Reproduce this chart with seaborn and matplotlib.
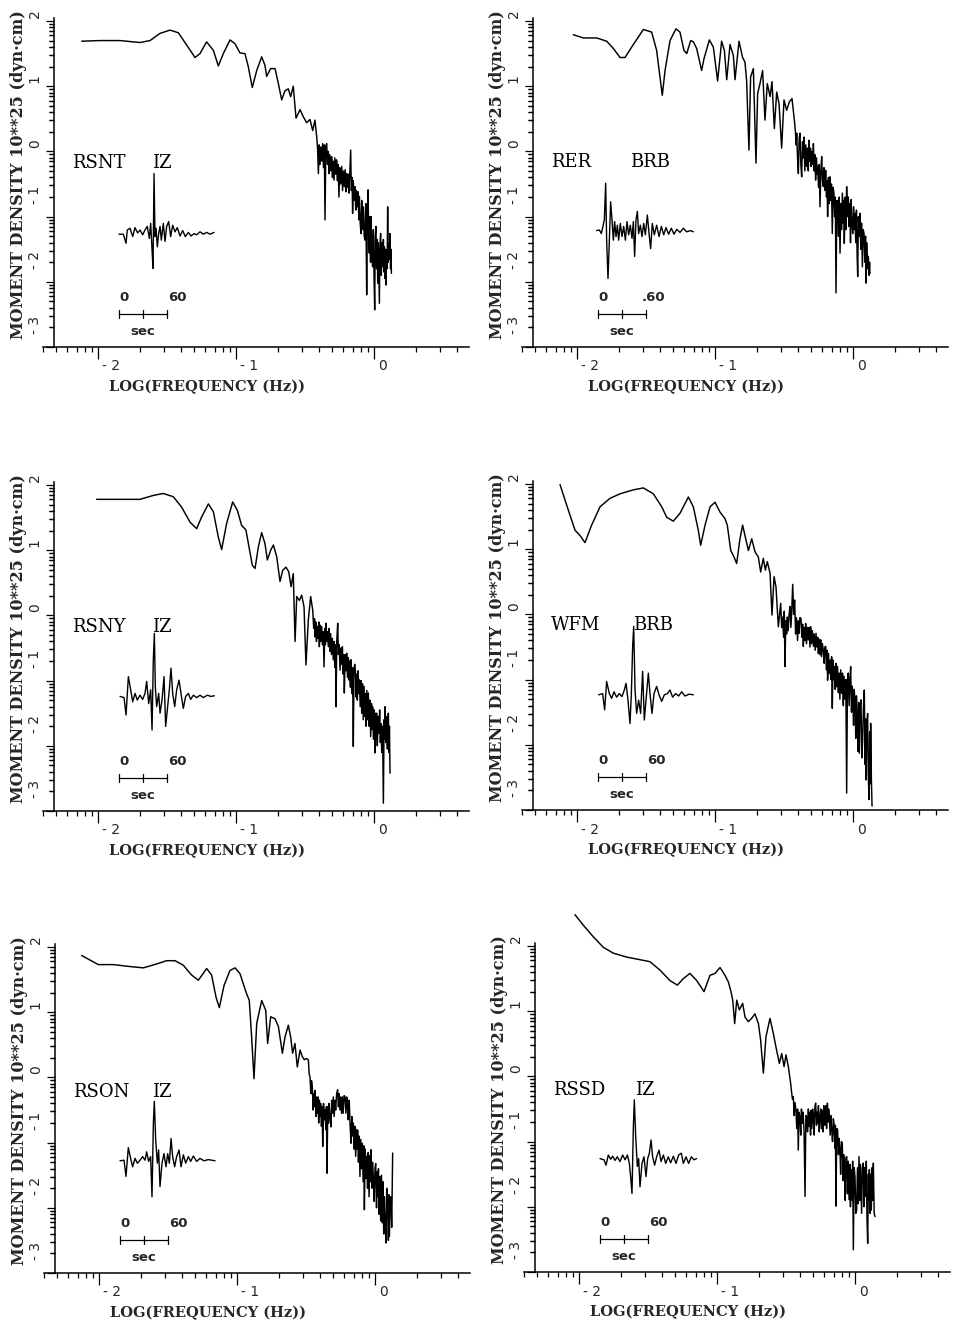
import numpy as np
import pandas as pd
import matplotlib
matplotlib.use("Agg")
import matplotlib.pyplot as plt
import matplotlib.transforms as mtransforms
from matplotlib.markers import TICKLEFT
from matplotlib.ticker import FixedLocator
import seaborn as sns

# ---------------- data (log10 frequency [Hz], log10 moment density [1e25 dyn.cm]) ----------------
rsnt_spectrum = [(-2.118, 1.69), (-1.986, 1.70), (-1.841, 1.70), (-1.696, 1.67), (-1.623, 1.70), (-1.551, 1.81),
    (-1.478, 1.86), (-1.418, 1.82), (-1.357, 1.63), (-1.297, 1.44), (-1.261, 1.50), (-1.213, 1.68), (-1.164, 1.55),
    (-1.128, 1.31), (-1.092, 1.50), (-1.043, 1.71), (-1.007, 1.65), (-0.971, 1.51), (-0.935, 1.50), (-0.911, 1.30),
    (-0.882, 0.98), (-0.850, 1.24), (-0.814, 1.45), (-0.790, 1.32), (-0.778, 1.15), (-0.749, 1.27), (-0.717, 1.27),
    (-0.693, 1.04), (-0.669, 0.79), (-0.645, 0.93), (-0.621, 0.96), (-0.604, 0.84), (-0.585, 1.00), (-0.565, 0.51),
    (-0.536, 0.64), (-0.512, 0.53), (-0.488, 0.44), (-0.464, 0.49), (-0.444, 0.32), (-0.428, 0.48), (-0.415, 0.22),
    (-0.409, 0.05), (-0.403, -0.34), (-0.397, 0.10), (-0.391, -0.20), (-0.385, 0.07), (-0.379, -0.15), (-0.372, 0.12),
    (-0.366, -0.25), (-0.360, 0.10), (-0.355, -1.05), (-0.349, 0.08), (-0.343, 0.12), (-0.337, -0.20), (-0.331, 0.00),
    (-0.326, -0.34), (-0.320, -0.05), (-0.313, -0.30), (-0.307, -0.08), (-0.301, -0.40), (-0.296, -0.15), (-0.290, -0.44),
    (-0.284, -0.10), (-0.277, -0.35), (-0.271, -0.13), (-0.265, -0.45), (-0.260, -0.20), (-0.254, -0.70), (-0.248, -0.25),
    (-0.241, -0.50), (-0.234, -0.23), (-0.228, -0.60), (-0.221, -0.30), (-0.215, -0.54), (-0.209, -0.28), (-0.203, -0.62),
    (-0.198, -0.34), (-0.192, -0.55), (-0.186, -0.35), (-0.181, -0.64), (-0.175, -0.30), (-0.169, 0.02), (-0.164, -0.60),
    (-0.159, -0.40), (-0.155, -0.95), (-0.150, -0.45), (-0.144, -0.75), (-0.138, -0.54), (-0.132, -0.90), (-0.127, -0.60),
    (-0.121, -0.85), (-0.115, -0.62), (-0.110, -1.05), (-0.106, -0.69), (-0.100, -1.10), (-0.094, -1.26), (-0.089, -0.75),
    (-0.083, -1.20), (-0.077, -0.85), (-0.071, -1.30), (-0.065, -1.36), (-0.060, -0.80), (-0.056, -1.50), (-0.053, -2.20),
    (-0.048, -0.95), (-0.043, -0.59), (-0.038, -1.40), (-0.034, -1.56), (-0.029, -1.00), (-0.025, -1.70), (-0.022, -1.00),
    (-0.016, -1.60), (-0.010, -1.77), (-0.005, -1.20), (0.000, -1.90), (0.005, -2.43), (0.009, -1.30), (0.014, -1.15),
    (0.019, -1.80), (0.023, -1.35), (0.027, -2.02), (0.031, -1.40), (0.035, -1.90), (0.039, -2.33), (0.043, -1.45),
    (0.048, -1.26), (0.053, -1.90), (0.058, -1.40), (0.063, -1.77), (0.068, -1.35), (0.072, -1.85), (0.075, -1.46),
    (0.080, -1.95), (0.084, -1.50), (0.087, -2.05), (0.091, -1.55), (0.095, -1.80), (0.099, -0.85), (0.103, -1.70),
    (0.106, -1.40), (0.109, -1.66), (0.113, -1.45), (0.116, -1.26), (0.120, -1.80), (0.123, -1.50), (0.126, -1.87)]

rer_spectrum = [(-2.027, 1.79), (-1.954, 1.74), (-1.857, 1.74), (-1.785, 1.69), (-1.737, 1.58), (-1.688, 1.44),
    (-1.652, 1.44), (-1.604, 1.60), (-1.519, 1.87), (-1.459, 1.83), (-1.423, 1.55), (-1.399, 1.14), (-1.382, 0.86),
    (-1.362, 1.24), (-1.326, 1.70), (-1.283, 1.88), (-1.254, 1.83), (-1.225, 1.55), (-1.205, 1.50), (-1.176, 1.70),
    (-1.157, 1.68), (-1.133, 1.58), (-1.097, 1.24), (-1.080, 1.42), (-1.041, 1.71), (-1.012, 1.60), (-0.981, 1.08),
    (-0.952, 1.69), (-0.932, 1.55), (-0.915, 1.10), (-0.891, 1.64), (-0.867, 1.47), (-0.855, 1.10), (-0.826, 1.69),
    (-0.800, 1.44), (-0.783, 1.37), (-0.771, 1.09), (-0.754, 0.02), (-0.742, 1.14), (-0.722, 1.27), (-0.703, -0.18),
    (-0.691, 0.89), (-0.674, 1.04), (-0.655, 1.24), (-0.638, 0.48), (-0.621, 1.04), (-0.601, 0.84), (-0.587, 1.07),
    (-0.570, 0.35), (-0.553, 0.91), (-0.536, 0.73), (-0.517, 0.05), (-0.500, 0.79), (-0.481, 0.63), (-0.461, 0.76),
    (-0.442, 0.81), (-0.425, 0.48), (-0.417, 0.30), (-0.412, 0.10), (-0.408, 0.28), (-0.402, -0.10), (-0.396, -0.34),
    (-0.390, 0.20), (-0.384, 0.28), (-0.378, -0.20), (-0.372, -0.39), (-0.366, 0.15), (-0.360, -0.10), (-0.355, 0.22),
    (-0.349, -0.30), (-0.342, 0.10), (-0.336, -0.23), (-0.330, 0.05), (-0.324, -0.30), (-0.319, 0.17), (-0.313, -0.15),
    (-0.308, 0.05), (-0.304, -0.23), (-0.298, 0.00), (-0.292, -0.20), (-0.287, 0.12), (-0.281, -0.30), (-0.276, -0.05),
    (-0.271, -0.44), (-0.265, -0.10), (-0.260, -0.35), (-0.256, -0.23), (-0.250, -0.55), (-0.245, -0.20), (-0.239, -0.85),
    (-0.233, -0.30), (-0.227, -0.08), (-0.221, -0.45), (-0.215, -0.54), (-0.210, -0.25), (-0.204, -0.60), (-0.198, -0.29),
    (-0.192, -0.70), (-0.188, -0.45), (-0.184, -1.00), (-0.178, -0.40), (-0.172, -0.80), (-0.167, -0.39), (-0.161, -0.75),
    (-0.156, -0.50), (-0.150, -1.26), (-0.144, -0.55), (-0.138, -0.64), (-0.133, -1.00), (-0.128, -0.70), (-0.123, -2.17),
    (-0.117, -0.75), (-0.111, -0.85), (-0.105, -1.30), (-0.100, -0.70), (-0.094, -1.56), (-0.088, -0.80), (-0.083, -1.20),
    (-0.077, -0.64), (-0.071, -1.10), (-0.067, -0.75), (-0.063, -1.41), (-0.057, -0.70), (-0.052, -1.20), (-0.046, -0.54),
    (-0.040, -1.00), (-0.034, -0.70), (-0.029, -1.15), (-0.023, -0.80), (-0.018, -1.40), (-0.014, -0.74), (-0.008, -1.10),
    (-0.002, -1.26), (0.004, -0.85), (0.009, -1.20), (0.014, -0.95), (0.020, -1.40), (0.025, -0.90), (0.030, -1.60),
    (0.034, -1.92), (0.039, -1.00), (0.045, -1.30), (0.051, -0.95), (0.056, -1.50), (0.062, -1.10), (0.068, -1.77),
    (0.074, -1.20), (0.080, -1.26), (0.086, -1.70), (0.091, -1.30), (0.094, -2.02), (0.099, -1.40), (0.105, -1.80),
    (0.111, -1.61), (0.116, -1.90), (0.120, -1.70), (0.123, -1.87)]

rsny_spectrum = [(-2.010, 1.78), (-1.865, 1.78), (-1.696, 1.78), (-1.599, 1.84), (-1.527, 1.87), (-1.454, 1.82),
    (-1.394, 1.66), (-1.333, 1.43), (-1.285, 1.33), (-1.249, 1.51), (-1.200, 1.71), (-1.164, 1.59), (-1.128, 1.20),
    (-1.104, 1.01), (-1.068, 1.41), (-1.024, 1.74), (-0.990, 1.61), (-0.959, 1.38), (-0.928, 1.31), (-0.899, 0.97),
    (-0.882, 0.77), (-0.862, 0.72), (-0.838, 1.05), (-0.814, 1.27), (-0.790, 1.10), (-0.773, 0.85), (-0.749, 1.00),
    (-0.729, 1.08), (-0.705, 0.90), (-0.681, 0.52), (-0.662, 0.69), (-0.638, 0.74), (-0.618, 0.67), (-0.601, 0.44),
    (-0.585, 0.64), (-0.572, -0.40), (-0.560, 0.29), (-0.541, 0.23), (-0.524, 0.31), (-0.507, 0.13), (-0.493, -0.76),
    (-0.476, -0.07), (-0.459, 0.29), (-0.444, 0.08), (-0.437, -0.20), (-0.431, -0.05), (-0.428, -0.33), (-0.422, -0.10),
    (-0.417, -0.40), (-0.411, -0.17), (-0.405, -0.35), (-0.400, -0.10), (-0.396, -0.48), (-0.390, -0.15), (-0.385, -0.40),
    (-0.379, -0.17), (-0.373, -0.45), (-0.368, -0.25), (-0.362, -0.79), (-0.356, -0.20), (-0.352, -0.45), (-0.348, -0.12),
    (-0.342, -0.40), (-0.337, -0.25), (-0.331, -0.48), (-0.325, -0.20), (-0.320, -0.55), (-0.314, -0.28), (-0.308, -0.60),
    (-0.302, -0.35), (-0.295, -0.68), (-0.290, -0.40), (-0.284, -0.80), (-0.279, -0.45), (-0.275, -1.40), (-0.270, -0.40),
    (-0.263, -0.12), (-0.258, -0.60), (-0.252, -0.45), (-0.246, -0.84), (-0.240, -0.50), (-0.234, -0.75), (-0.229, -0.48),
    (-0.224, -0.90), (-0.219, -0.60), (-0.215, -1.19), (-0.209, -0.60), (-0.204, -0.85), (-0.198, -0.58), (-0.192, -0.95),
    (-0.186, -0.65), (-0.181, -0.99), (-0.176, -0.70), (-0.171, -1.10), (-0.167, -0.68), (-0.161, -1.20), (-0.155, -0.80),
    (-0.150, -2.01), (-0.145, -0.85), (-0.140, -0.75), (-0.135, -0.84), (-0.129, -1.25), (-0.124, -0.90), (-0.121, -1.30),
    (-0.115, -0.85), (-0.110, -1.20), (-0.106, -0.99), (-0.100, -1.40), (-0.094, -1.00), (-0.089, -1.50), (-0.083, -1.05),
    (-0.078, -1.60), (-0.072, -1.09), (-0.066, -1.55), (-0.062, -1.20), (-0.058, -1.70), (-0.052, -1.15), (-0.046, -1.60),
    (-0.041, -1.19), (-0.035, -1.70), (-0.030, -1.30), (-0.024, -1.86), (-0.018, -1.35), (-0.014, -1.75), (-0.010, -1.40),
    (-0.004, -1.90), (0.002, -1.45), (0.007, -2.11), (0.012, -1.50), (0.016, -1.90), (0.019, -1.50), (0.024, -2.00),
    (0.030, -1.55), (0.036, -1.81), (0.041, -1.45), (0.046, -1.95), (0.051, -1.66), (0.056, -2.10), (0.062, -1.70),
    (0.068, -2.88), (0.073, -1.60), (0.077, -1.90), (0.080, -1.40), (0.085, -1.95), (0.089, -1.55), (0.092, -1.70),
    (0.097, -2.05), (0.101, -1.60), (0.104, -1.50), (0.108, -2.10), (0.112, -1.70), (0.116, -2.42)]

wfm_spectrum = [(-2.123, 1.99), (-2.063, 1.60), (-2.014, 1.29), (-1.978, 1.21), (-1.942, 1.10), (-1.894, 1.37),
    (-1.833, 1.65), (-1.761, 1.78), (-1.688, 1.85), (-1.592, 1.91), (-1.519, 1.94), (-1.447, 1.85), (-1.386, 1.65),
    (-1.350, 1.49), (-1.302, 1.43), (-1.254, 1.55), (-1.193, 1.80), (-1.157, 1.65), (-1.121, 1.29), (-1.104, 1.06),
    (-1.072, 1.37), (-1.036, 1.65), (-1.000, 1.72), (-0.964, 1.57), (-0.928, 1.47), (-0.911, 1.37), (-0.886, 0.98),
    (-0.862, 0.88), (-0.843, 0.78), (-0.819, 1.16), (-0.800, 1.37), (-0.775, 1.14), (-0.758, 0.98), (-0.734, 1.16),
    (-0.710, 0.96), (-0.686, 0.88), (-0.669, 0.65), (-0.650, 0.86), (-0.635, 0.68), (-0.621, 0.81), (-0.601, 0.63),
    (-0.587, -0.01), (-0.572, 0.58), (-0.558, 0.42), (-0.541, -0.19), (-0.524, 0.17), (-0.517, -0.20), (-0.510, -0.04),
    (-0.503, -0.35), (-0.498, 0.05), (-0.493, -0.80), (-0.487, -0.10), (-0.481, -0.30), (-0.476, -0.04), (-0.470, -0.25),
    (-0.463, 0.00), (-0.457, 0.12), (-0.450, -0.20), (-0.444, 0.05), (-0.437, 0.46), (-0.430, 0.00), (-0.423, 0.22),
    (-0.416, -0.30), (-0.411, -0.05), (-0.408, -0.09), (-0.402, -0.40), (-0.396, -0.10), (-0.391, -0.29), (-0.385, -0.05),
    (-0.377, -0.06), (-0.371, -0.35), (-0.365, -0.15), (-0.360, -0.49), (-0.354, -0.20), (-0.348, -0.40), (-0.343, -0.14),
    (-0.337, -0.45), (-0.330, -0.20), (-0.324, -0.39), (-0.318, -0.20), (-0.312, -0.50), (-0.307, -0.19), (-0.301, -0.45),
    (-0.294, -0.25), (-0.287, -0.49), (-0.281, -0.30), (-0.274, -0.55), (-0.268, -0.29), (-0.262, -0.50), (-0.256, -0.35),
    (-0.251, -0.60), (-0.245, -0.38), (-0.239, -0.62), (-0.234, -0.39), (-0.228, -0.65), (-0.222, -0.45), (-0.215, -0.55),
    (-0.209, -0.75), (-0.204, -0.50), (-0.198, -0.49), (-0.192, -0.85), (-0.188, -0.55), (-0.184, -1.01), (-0.178, -0.60),
    (-0.172, -0.90), (-0.167, -0.70), (-0.161, -1.00), (-0.155, -0.65), (-0.150, -1.44), (-0.145, -0.70), (-0.140, -1.00),
    (-0.135, -0.80), (-0.129, -1.15), (-0.124, -0.75), (-0.118, -1.11), (-0.112, -0.80), (-0.106, -1.20), (-0.101, -0.90),
    (-0.095, -1.30), (-0.089, -0.85), (-0.082, -1.21), (-0.076, -0.90), (-0.070, -1.40), (-0.065, -0.95), (-0.058, -1.30),
    (-0.052, -1.00), (-0.046, -2.74), (-0.040, -1.00), (-0.034, -0.90), (-0.028, -1.40), (-0.022, -1.00), (-0.017, -0.80),
    (-0.011, -1.50), (-0.006, -1.10), (-0.002, -1.21), (0.004, -1.70), (0.009, -1.15), (0.014, -1.31), (0.020, -1.90),
    (0.025, -1.25), (0.031, -1.57), (0.036, -2.10), (0.041, -1.35), (0.046, -2.13), (0.052, -1.40), (0.058, -1.31),
    (0.064, -2.20), (0.070, -1.92), (0.076, -1.40), (0.082, -1.16), (0.087, -2.30), (0.091, -1.60), (0.094, -2.54),
    (0.100, -1.70), (0.106, -1.52), (0.110, -2.40), (0.116, -2.84), (0.121, -1.80), (0.125, -2.60), (0.128, -1.67),
    (0.133, -2.50), (0.138, -2.94)]

rson_spectrum = [(-2.126, 1.87), (-2.065, 1.80), (-2.005, 1.73), (-1.896, 1.73), (-1.775, 1.70), (-1.679, 1.68),
    (-1.582, 1.74), (-1.510, 1.79), (-1.449, 1.79), (-1.389, 1.72), (-1.329, 1.57), (-1.280, 1.49), (-1.220, 1.67),
    (-1.184, 1.57), (-1.152, 1.23), (-1.128, 1.07), (-1.094, 1.41), (-1.051, 1.64), (-1.014, 1.68), (-0.978, 1.59),
    (-0.935, 1.31), (-0.911, 1.18), (-0.894, 0.62), (-0.877, -0.02), (-0.857, 0.83), (-0.821, 1.18), (-0.792, 1.03),
    (-0.778, 0.52), (-0.756, 0.93), (-0.725, 0.90), (-0.700, 0.78), (-0.671, 0.37), (-0.652, 0.62), (-0.628, 0.80),
    (-0.611, 0.62), (-0.597, 0.37), (-0.580, 0.52), (-0.563, 0.16), (-0.543, 0.42), (-0.527, 0.32), (-0.512, 0.27),
    (-0.500, 0.29), (-0.483, 0.27), (-0.477, 0.05), (-0.471, 0.01), (-0.465, -0.25), (-0.460, -0.05), (-0.454, -0.14),
    (-0.448, -0.50), (-0.444, -0.25), (-0.440, -0.45), (-0.434, -0.20), (-0.428, -0.60), (-0.423, -0.30), (-0.418, -0.55),
    (-0.413, -0.30), (-0.408, -0.70), (-0.403, -0.35), (-0.398, -0.60), (-0.394, -0.40), (-0.388, -0.75), (-0.383, -0.45),
    (-0.379, -1.06), (-0.373, -0.40), (-0.367, -0.65), (-0.362, -0.50), (-0.356, -0.80), (-0.352, -0.45), (-0.348, -1.47),
    (-0.342, -0.45), (-0.337, -0.70), (-0.333, -0.40), (-0.326, -0.60), (-0.319, -0.76), (-0.314, -0.35), (-0.308, -0.55),
    (-0.302, -0.30), (-0.296, -0.60), (-0.290, -0.35), (-0.285, -0.50), (-0.278, -0.25), (-0.271, -0.19), (-0.265, -0.45),
    (-0.260, -0.25), (-0.254, -0.50), (-0.248, -0.30), (-0.242, -0.55), (-0.237, -0.30), (-0.231, -0.55), (-0.224, -0.28),
    (-0.217, -0.30), (-0.211, -0.55), (-0.205, -0.30), (-0.200, -0.40), (-0.194, -0.65), (-0.189, -0.35), (-0.186, -0.40),
    (-0.180, -0.75), (-0.174, -1.01), (-0.168, -0.60), (-0.163, -0.90), (-0.157, -0.70), (-0.151, -1.10), (-0.146, -0.75),
    (-0.140, -1.21), (-0.134, -0.80), (-0.129, -1.10), (-0.126, -0.81), (-0.120, -1.30), (-0.115, -0.90), (-0.109, -1.52),
    (-0.103, -0.95), (-0.097, -1.40), (-0.092, -1.01), (-0.086, -1.60), (-0.081, -1.05), (-0.077, -2.03), (-0.071, -1.10),
    (-0.065, -1.55), (-0.060, -1.21), (-0.054, -1.70), (-0.049, -1.15), (-0.043, -1.83), (-0.037, -1.20), (-0.033, -1.60),
    (-0.029, -1.11), (-0.023, -1.70), (-0.018, -1.30), (-0.012, -1.52), (-0.006, -1.90), (0.000, -1.40), (0.005, -1.32),
    (0.011, -2.00), (0.015, -1.45), (0.019, -1.83), (0.025, -1.40), (0.030, -2.10), (0.036, -1.52), (0.041, -2.20),
    (0.047, -1.50), (0.053, -2.23), (0.058, -1.60), (0.063, -2.40), (0.068, -1.83), (0.074, -2.30), (0.080, -2.54),
    (0.085, -1.70), (0.092, -1.93), (0.097, -2.50), (0.101, -1.80), (0.104, -2.44), (0.110, -1.90), (0.116, -1.83),
    (0.121, -2.30), (0.125, -1.60), (0.128, -1.16)]

rssd_spectrum = [(-2.029, 2.48), (-1.969, 2.32), (-1.896, 2.14), (-1.824, 1.98), (-1.751, 1.89), (-1.655, 1.83),
    (-1.558, 1.79), (-1.486, 1.76), (-1.413, 1.63), (-1.341, 1.47), (-1.287, 1.40), (-1.244, 1.50), (-1.196, 1.58),
    (-1.147, 1.47), (-1.094, 1.30), (-1.051, 1.55), (-1.014, 1.58), (-0.978, 1.67), (-0.942, 1.55), (-0.918, 1.45),
    (-0.901, 1.32), (-0.886, 1.17), (-0.872, 0.81), (-0.857, 1.17), (-0.838, 1.02), (-0.814, 1.12), (-0.797, 0.91),
    (-0.773, 0.84), (-0.749, 0.89), (-0.725, 0.96), (-0.700, 0.81), (-0.684, 0.56), (-0.664, 0.05), (-0.645, 0.61),
    (-0.616, 0.89), (-0.592, 0.66), (-0.568, 0.40), (-0.548, 0.20), (-0.531, 0.35), (-0.514, 0.15), (-0.500, 0.33),
    (-0.483, 0.15), (-0.466, -0.11), (-0.459, -0.25), (-0.453, -0.35), (-0.447, -0.31), (-0.441, -0.60), (-0.435, -0.40),
    (-0.428, -0.52), (-0.422, -0.80), (-0.416, -0.50), (-0.411, -1.13), (-0.405, -0.55), (-0.399, -0.62), (-0.393, -0.90),
    (-0.388, -0.50), (-0.382, -0.72), (-0.376, -0.55), (-0.369, -0.85), (-0.362, -1.84), (-0.356, -0.60), (-0.350, -0.62),
    (-0.344, -0.85), (-0.338, -0.50), (-0.333, -0.77), (-0.327, -0.55), (-0.322, -0.90), (-0.319, -0.52), (-0.313, -0.80),
    (-0.307, -0.50), (-0.302, -0.62), (-0.296, -0.90), (-0.290, -0.45), (-0.285, -0.41), (-0.279, -0.75), (-0.275, -0.55),
    (-0.271, -0.72), (-0.265, -0.45), (-0.259, -0.85), (-0.254, -0.62), (-0.248, -0.50), (-0.243, -0.80), (-0.237, -0.52),
    (-0.231, -0.85), (-0.226, -0.45), (-0.221, -0.75), (-0.217, -0.72), (-0.211, -0.45), (-0.206, -0.80), (-0.200, -0.41),
    (-0.195, -0.70), (-0.191, -0.50), (-0.186, -0.62), (-0.180, -0.90), (-0.175, -0.60), (-0.169, -0.82), (-0.163, -1.00),
    (-0.157, -0.65), (-0.152, -0.72), (-0.146, -1.10), (-0.142, -0.75), (-0.138, -1.99), (-0.132, -0.80), (-0.126, -0.82),
    (-0.120, -1.20), (-0.115, -0.95), (-0.109, -1.13), (-0.104, -1.50), (-0.098, -1.00), (-0.092, -1.03), (-0.086, -1.60),
    (-0.082, -1.20), (-0.077, -1.43), (-0.071, -1.90), (-0.066, -1.25), (-0.060, -1.23), (-0.055, -1.80), (-0.049, -1.30),
    (-0.043, -1.89), (-0.037, -1.35), (-0.033, -2.00), (-0.029, -1.43), (-0.022, -1.90), (-0.017, -1.30), (-0.012, -2.66),
    (-0.006, -1.40), (0.000, -1.54), (0.006, -2.10), (0.012, -2.05), (0.018, -1.40), (0.024, -1.95), (0.029, -1.23),
    (0.035, -1.90), (0.039, -1.35), (0.043, -1.69), (0.048, -2.10), (0.053, -1.40), (0.060, -1.33), (0.065, -2.00),
    (0.071, -1.40), (0.077, -1.84), (0.082, -1.30), (0.087, -2.20), (0.092, -2.56), (0.097, -1.50), (0.101, -1.90),
    (0.104, -1.43), (0.109, -2.10), (0.114, -1.50), (0.118, -2.05), (0.124, -1.40), (0.128, -1.90), (0.133, -1.33),
    (0.139, -2.10), (0.145, -2.15)]

# inset seismograms: (time [s], normalised amplitude)
rsnt_wave = [(0, -0.02), (5.4, -0.02), (8.8, -0.17), (10.4, 0.05), (13.8, 0.08), (17.1, -0.06), (20.0, 0.09),
    (23.3, 0.0), (26.3, 0.05), (29.6, -0.03), (32.5, 0.05), (35.4, 0.11), (37.9, -0.09), (39.6, 0.16), (41.3, -0.28),
    (42.5, -0.59), (43.8, 0.99), (45.0, -0.06), (46.3, 0.08), (47.9, -0.23), (49.6, -0.01), (51.3, 0.11), (52.9, -0.12),
    (55.4, 0.16), (57.5, -0.14), (59.6, 0.11), (62.1, 0.19), (64.6, -0.06), (67.1, 0.13), (70.0, 0.02), (72.9, 0.09),
    (76.3, -0.05), (79.6, 0.04), (82.9, -0.06), (86.7, 0.01), (90.0, -0.05), (93.8, -0.01), (97.1, -0.03), (101.3, 0.02),
    (105.4, -0.02), (109.6, 0.01), (113.8, -0.02), (118.8, 0.01)]
rer_wave = [(-1.7, 0.04), (1.7, 0.05), (4.2, -0.01), (5.8, 0.09), (7.9, 0.22), (9.6, 0.83), (10.8, -0.12), (12.5, -0.76),
    (14.2, -0.12), (15.8, 0.52), (17.5, 0.22), (19.2, -0.12), (20.8, 0.19), (22.5, -0.06), (24.2, 0.13), (25.8, -0.12),
    (27.9, 0.16), (30.0, -0.06), (32.1, 0.11), (34.2, -0.12), (36.3, 0.19), (38.3, -0.03), (40.4, 0.13), (42.5, -0.09),
    (44.2, 0.19), (45.8, -0.39), (47.5, 0.22), (49.2, 0.36), (50.8, -0.01), (52.9, 0.13), (55.0, -0.06), (57.1, 0.16),
    (59.2, -0.03), (61.7, 0.30), (63.8, -0.01), (65.8, -0.26), (67.9, 0.16), (70.4, -0.03), (73.3, 0.13), (76.3, -0.06),
    (79.2, 0.11), (82.1, -0.03), (85.0, 0.09), (88.3, -0.02), (91.7, 0.08), (95.0, -0.02), (98.3, 0.06), (102.5, 0.01),
    (106.7, 0.08), (110.8, 0.02), (115.8, 0.04), (119.2, 0.02)]
rsny_wave = [(1.3, 0.01), (6.3, -0.01), (8.8, -0.30), (11.7, 0.34), (14.6, 0.12), (17.1, -0.08), (20.0, 0.06),
    (22.9, -0.05), (26.3, 0.03), (29.6, -0.04), (32.5, 0.06), (34.6, 0.26), (37.1, -0.11), (39.6, 0.12), (41.3, -0.55),
    (42.9, 0.62), (44.2, 1.06), (45.4, 0.17), (47.1, -0.16), (49.6, 0.06), (51.3, -0.27), (53.8, -0.05), (56.3, 0.34),
    (58.3, -0.49), (60.8, -0.16), (62.9, 0.12), (65.0, 0.48), (67.1, 0.06), (69.6, -0.16), (72.1, 0.12), (75.0, 0.28),
    (77.5, 0.06), (80.4, -0.19), (83.3, 0.01), (86.7, 0.06), (89.6, -0.04), (92.9, 0.03), (97.1, -0.01), (101.3, 0.03),
    (105.4, -0.01), (110.4, 0.03), (114.6, 0.01), (119.2, 0.02)]
wfm_wave = [(0.8, 0.02), (5.8, 0.04), (8.3, -0.23), (10.8, 0.24), (14.2, 0.04), (17.1, -0.04), (20.0, 0.07),
    (23.3, -0.02), (26.7, 0.04), (30.0, -0.01), (32.9, 0.10), (35.0, 0.21), (37.5, -0.07), (40.0, -0.46), (41.7, 0.04),
    (43.3, 0.82), (44.6, 1.16), (46.3, 0.10), (48.3, -0.29), (50.8, -0.07), (53.3, -0.29), (55.8, 0.41), (57.9, -0.40),
    (60.0, -0.07), (62.9, 0.38), (65.0, 0.04), (67.5, -0.29), (70.0, 0.04), (73.3, 0.16), (76.3, 0.02), (79.6, -0.09),
    (82.9, 0.02), (86.7, 0.04), (90.0, 0.10), (93.3, -0.02), (97.1, 0.04), (100.8, 0.0), (104.6, 0.07), (108.8, 0.0),
    (113.8, 0.03), (119.2, 0.02)]
rson_wave = [(0, -0.03), (5.0, -0.02), (7.5, -0.29), (10.4, 0.19), (13.3, 0.01), (15.8, -0.13), (18.8, 0.01),
    (21.7, -0.07), (25.0, -0.02), (28.3, 0.04), (31.3, -0.02), (33.3, 0.12), (35.8, -0.04), (38.3, 0.04), (40.0, -0.63),
    (41.7, 0.59), (42.9, 0.96), (44.6, 0.32), (46.7, -0.07), (48.3, 0.15), (50.0, -0.46), (52.5, -0.07), (55.0, 0.09),
    (57.5, -0.13), (59.6, 0.09), (61.7, -0.07), (63.8, 0.34), (65.8, 0.04), (68.3, -0.13), (70.8, 0.04), (73.8, 0.15),
    (76.3, -0.13), (79.2, 0.07), (82.1, -0.07), (85.4, 0.04), (88.3, -0.04), (91.7, 0.05), (95.8, -0.04), (100.0, 0.01),
    (105.0, -0.03), (110.4, -0.01), (118.8, -0.03)]
rssd_wave = [(0, -0.01), (5.0, -0.03), (7.5, -0.12), (10.4, 0.05), (13.3, -0.02), (15.8, 0.03), (18.8, -0.04),
    (21.7, 0.02), (25.0, -0.06), (28.3, 0.05), (31.3, -0.03), (34.2, 0.05), (36.7, -0.09), (38.3, -0.31), (40.0, -0.59),
    (41.7, 0.52), (42.9, 0.97), (44.6, 0.36), (46.7, -0.14), (48.3, -0.01), (50.0, -0.48), (52.5, -0.09), (55.0, 0.02),
    (57.5, -0.31), (59.6, -0.01), (61.7, 0.08), (63.8, 0.30), (65.8, 0.02), (68.3, -0.12), (70.8, 0.02), (73.8, 0.13),
    (76.3, -0.06), (79.2, 0.05), (82.1, -0.09), (85.4, 0.02), (88.3, -0.08), (91.7, 0.03), (95.0, -0.09), (98.3, 0.05),
    (101.7, 0.08), (104.2, -0.09), (107.5, 0.02), (110.8, -0.09), (114.2, 0.02), (117.5, -0.03), (120.8, -0.01)]

stations = ["RSNT", "RER", "RSNY", "WFM", "RSON", "RSSD"]
components = ["IZ", "BRB", "IZ", "BRB", "IZ", "IZ"]
scale_end_labels = ["60", ".60", "60", "60", "60", "60"]
spectra = [rsnt_spectrum, rer_spectrum, rsny_spectrum, wfm_spectrum, rson_spectrum, rssd_spectrum]
waves = [rsnt_wave, rer_wave, rsny_wave, wfm_wave, rson_wave, rssd_wave]

y_major = [-3, -2, -1, 0, 1, 2]
y_major_labels = ["- 3", "- 2", "- 1", "0", "1", "2"]
x_major = [-2, -1, 0]
x_major_labels = ["- 2", "- 1", "0"]
scale_bar_sec = [0, 30, 60]

# ---------------- layout ----------------
W, H = 954, 1321
sns.set_theme(style="ticks")
plt.rcParams["font.family"] = ["DejaVu Sans"]
plt.rcParams["axes.linewidth"] = 1.1

fig = plt.figure(figsize=(W / 100, H / 100), dpi=100)
fig.patch.set_facecolor("white")

XL, XR = -2.40, 0.69
YB, YT = -3.0, 2.05
SPINE_X = -2.32
PX_PER_X = 138.0
PX_PER_Y = 65.2
X0_PX = 98.0      # pixel of x = -2 in panel 1
Y2_PX = 21.0      # pixel of y = 2 in panel 1
offsets = [(0, 0), (479, 0), (0, 464), (479, 463), (1, 926), (481, 925)]
label_base = [168, 167, 168, 167, 171, 170]
comp_left = [152, 151, 152, 154, 151, 154]


def frac_rect(left, top, w, h):
    return [left / W, 1 - (top + h) / H, w / W, h / H]


def px2x(px):
    return -2 + (px - X0_PX) / PX_PER_X


def px2y(py):
    return 2 - (py - Y2_PX) / PX_PER_Y


minor_x = [d + np.log10(k) for d in (-3, -2, -1, 0) for k in range(2, 10)]
minor_x = [v for v in minor_x if XL <= v <= XR]
minor_y = [d + np.log10(k) for d in (-3, -2, -1, 0, 1) for k in range(2, 10)]

for i in range(6):
    dx, dy = offsets[i]
    ax_left = X0_PX + (XL + 2) * PX_PER_X + dx
    ax_top = Y2_PX - (YT - 2) * PX_PER_Y + dy
    ax_w = (XR - XL) * PX_PER_X
    ax_h = (YT - YB) * PX_PER_Y

    # inset seismogram with its time scale bar
    T0, T1, A0, A1 = -10, 130, -1.9, 1.3
    in_left = 119 + T0 * 0.8 + dx
    in_top = 233 - A1 * 60 + dy
    ins = fig.add_axes(frac_rect(in_left, in_top, (T1 - T0) * 0.8, (A1 - A0) * 60))
    ins.set_xlim(T0, T1)
    ins.set_ylim(A0, A1)
    ins.axis("off")
    wt, wa = zip(*waves[i])
    sns.lineplot(x=np.array(wt), y=np.array(wa), ax=ins, color="black", linewidth=1.0,
                 sort=False, estimator=None)
    ins.plot([scale_bar_sec[0], scale_bar_sec[-1]], [-1.35, -1.35], color="black", lw=0.9)
    for s in scale_bar_sec:
        ins.plot([s, s], [-1.42, -1.28], color="black", lw=0.9)
    ins.text(0, -1.07, "0", ha="left", va="center", fontsize=9.5, fontweight="bold")
    ins.text(62 if scale_end_labels[i] == "60" else 55, -1.07, scale_end_labels[i], ha="left", va="center",
             fontsize=9.5, fontweight="bold")
    ins.text(30, -1.64, "sec", ha="center", va="center", fontsize=9.5, fontweight="bold")

    # main spectrum axes
    ax = fig.add_axes(frac_rect(ax_left, ax_top, ax_w, ax_h))
    ax.set_facecolor("none")
    fx, fy = zip(*spectra[i])
    sns.lineplot(x=np.array(fx), y=np.array(fy), ax=ax, color="black", linewidth=1.05,
                 sort=False, estimator=None, clip_on=False)
    ax.set_xlim(XL, XR)
    ax.set_ylim(YB, YT)
    for s in ("top", "right"):
        ax.spines[s].set_visible(False)
    ax.spines["left"].set_position(("data", SPINE_X))
    ax.spines["left"].set_color("black")
    ax.spines["bottom"].set_color("black")

    ax.minorticks_on()
    ax.xaxis.set_major_locator(FixedLocator(x_major))
    ax.xaxis.set_minor_locator(FixedLocator(minor_x))
    ax.yaxis.set_major_locator(FixedLocator(y_major))
    ax.yaxis.set_minor_locator(FixedLocator(minor_y))
    ax.set_xticklabels(x_major_labels)
    ax.set_yticklabels(y_major_labels)
    ax.tick_params(axis="x", which="major", direction="out", length=8.5, width=0.9, color="black",
                   pad=0.5, labelsize=10, bottom=True)
    ax.tick_params(axis="x", which="minor", direction="out", length=3.6, width=0.9, color="black", bottom=True)
    ax.tick_params(axis="y", which="major", direction="out", length=5.8, width=0.9, color="black",
                   pad=2.9, labelsize=10, left=True)
    ax.tick_params(axis="y", which="minor", direction="out", length=3.6, width=0.9, color="black", left=True)
    # reinforce the log-decade minor ticks on the shifted left spine
    ax.plot(np.full(len(minor_y), SPINE_X), minor_y, linestyle="none", marker=TICKLEFT, markersize=3.6,
            markeredgewidth=0.9, color="black", clip_on=False)

    for lab in ax.get_xticklabels():
        lab.set_ha("left")
        lab.set_transform(lab.get_transform() + mtransforms.ScaledTranslation(0.04, 0, fig.dpi_scale_trans))
    for v, lab in zip(y_major, ax.get_yticklabels()):
        lab.set_rotation(90)
        lab.set_va("bottom")
        lab.set_ha("right")
        up = 0.03 if v >= 0 else 0.13
        lab.set_transform(lab.get_transform() + mtransforms.ScaledTranslation(0, up, fig.dpi_scale_trans))

    ax.set_xlabel("LOG(FREQUENCY (Hz))", fontfamily="DejaVu Serif", fontweight="bold", fontsize=10.5)
    ax.xaxis.set_label_coords((207 - (ax_left - dx)) / ax_w, (347 - 387) / ax_h)
    ax.xaxis.label.set_va("center")
    ax.set_ylabel("MOMENT DENSITY 10**25 (dyn\u00b7cm)", fontfamily="DejaVu Serif", fontweight="bold",
                  fontsize=11.5)
    ax.yaxis.set_label_coords((19 - (ax_left - dx)) / ax_w, (347 - 175) / ax_h)
    ax.yaxis.label.set_va("center")

    ax.text(px2x(72), px2y(label_base[i]), stations[i], fontfamily="DejaVu Serif", fontsize=13,
            ha="left", va="baseline", color="black")
    ax.text(px2x(comp_left[i]), px2y(label_base[i]), components[i], fontfamily="DejaVu Serif", fontsize=13,
            ha="left", va="baseline", color="black")

fig.savefig("out.png", dpi=100, facecolor="white")
